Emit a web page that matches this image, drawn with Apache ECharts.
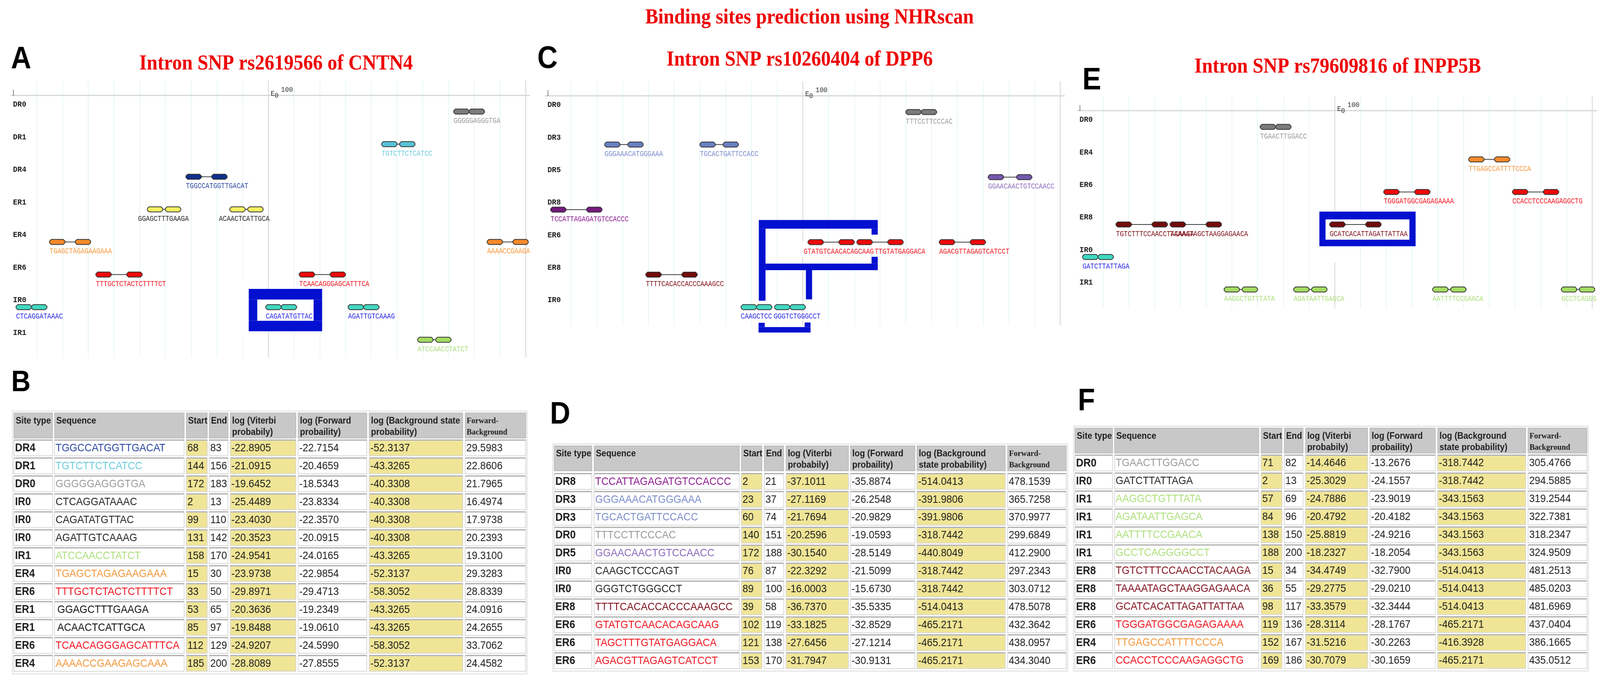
<!DOCTYPE html>
<html>
<head>
<meta charset="utf-8">
<title>Binding sites prediction using NHRscan</title>
<script src="https://cdn.jsdelivr.net/npm/echarts@6/dist/echarts.min.js"></script>
<style>
  html, body { margin: 0; padding: 0; background: #fff; overflow: hidden; }
  #main { width: 4550px; height: 1729px; transform-origin: 0 0; }
</style>
</head>
<body>
<div id="main"></div>
<script>
// site type, sequence, start, end, log viterbi, log forward, log background, forward-background
const tableB = [
  ['DR4', 'TGGCCATGGTTGACAT', 68, 83, -22.8905, -22.7154, -52.3137, 29.5983],
  ['DR1', 'TGTCTTCTCATCC', 144, 156, -21.0915, -20.4659, -43.3265, 22.8606],
  ['DR0', 'GGGGGAGGGTGA', 172, 183, -19.6452, -18.5343, -40.3308, 21.7965],
  ['IR0', 'CTCAGGATAAAC', 2, 13, -25.4489, -23.8334, -40.3308, 16.4974],
  ['IR0', 'CAGATATGTTAC', 99, 110, -23.4030, -22.3570, -40.3308, 17.9738],
  ['IR0', 'AGATTGTCAAAG', 131, 142, -20.3523, -20.0915, -40.3308, 20.2393],
  ['IR1', 'ATCCAACCTATCT', 158, 170, -24.9541, -24.0165, -43.3265, 19.3100],
  ['ER4', 'TGAGCTAGAGAAGAAA', 15, 30, -23.9738, -22.9854, -52.3137, 29.3283],
  ['ER6', 'TTTGCTCTACTCTTTTCT', 33, 50, -29.8971, -29.4713, -58.3052, 28.8339],
  ['ER1', 'GGAGCTTTGAAGA', 53, 65, -20.3636, -19.2349, -43.3265, 24.0916],
  ['ER1', 'ACAACTCATTGCA', 85, 97, -19.8488, -19.0610, -43.3265, 24.2655],
  ['ER6', 'TCAACAGGGAGCATTTCA', 112, 129, -24.9207, -24.5990, -58.3052, 33.7062],
  ['ER4', 'AAAACCGAAGAGCAAA', 185, 200, -28.8089, -27.8555, -52.3137, 24.4582]
];
const tableD = [
  ['DR8', 'TCCATTAGAGATGTCCACCC', 2, 21, -37.1011, -35.8874, -514.0413, 478.1539],
  ['DR3', 'GGGAAACATGGGAAA', 23, 37, -27.1169, -26.2548, -391.9806, 365.7258],
  ['DR3', 'TGCACTGATTCCACC', 60, 74, -21.7694, -20.9829, -391.9806, 370.9977],
  ['DR0', 'TTTCCTTCCCAC', 140, 151, -20.2596, -19.0593, -318.7442, 299.6849],
  ['DR5', 'GGAACAACTGTCCAACC', 172, 188, -30.1540, -28.5149, -440.8049, 412.2900],
  ['IR0', 'CAAGCTCCCAGT', 76, 87, -22.3292, -21.5099, -318.7442, 297.2343],
  ['IR0', 'GGGTCTGGGCCT', 89, 100, -16.0003, -15.6730, -318.7442, 303.0712],
  ['ER8', 'TTTTCACACCACCCAAAGCC', 39, 58, -36.7370, -35.5335, -514.0413, 478.5078],
  ['ER6', 'GTATGTCAACACAGCAAG', 102, 119, -33.1825, -32.8529, -465.2171, 432.3642],
  ['ER6', 'TAGCTTTGTATGAGGACA', 121, 138, -27.6456, -27.1214, -465.2171, 438.0957],
  ['ER6', 'AGACGTTAGAGTCATCCT', 153, 170, -31.7947, -30.9131, -465.2171, 434.3040]
];
const tableF = [
  ['DR0', 'TGAACTTGGACC', 71, 82, -14.4646, -13.2676, -318.7442, 305.4766],
  ['IR0', 'GATCTTATTAGA', 2, 13, -25.3029, -24.1557, -318.7442, 294.5885],
  ['IR1', 'AAGGCTGTTTATA', 57, 69, -24.7886, -23.9019, -343.1563, 319.2544],
  ['IR1', 'AGATAATTGAGCA', 84, 96, -20.4792, -20.4182, -343.1563, 322.7381],
  ['IR1', 'AATTTTCCGAACA', 138, 150, -25.8819, -24.9216, -343.1563, 318.2347],
  ['IR1', 'GCCTCAGGGGCCT', 188, 200, -18.2327, -18.2054, -343.1563, 324.9509],
  ['ER8', 'TGTCTTTCCAACCTACAAGA', 15, 34, -34.4749, -32.7900, -514.0413, 481.2513],
  ['ER8', 'TAAAATAGCTAAGGAGAACA', 36, 55, -29.2775, -29.0210, -514.0413, 485.0203],
  ['ER8', 'GCATCACATTAGATTATTAA', 98, 117, -33.3579, -32.3444, -514.0413, 481.6969],
  ['ER6', 'TGGGATGGCGAGAGAAAA', 119, 136, -28.3114, -28.1767, -465.2171, 437.0404],
  ['ER4', 'TTGAGCCATTTTCCCA', 152, 167, -31.5216, -30.2263, -416.3928, 386.1665],
  ['ER6', 'CCACCTCCCAAGAGGCTG', 169, 186, -30.7079, -30.1659, -465.2171, 435.0512]
];

const rowsA = ['DR0', 'DR1', 'DR4', 'ER1', 'ER4', 'ER6', 'IR0', 'IR1'];
const rowsC = ['DR0', 'DR3', 'DR5', 'DR8', 'ER6', 'ER8', 'IR0'];
const rowsE = ['DR0', 'ER4', 'ER6', 'ER8', 'IR0', 'IR1'];

const headersB = ['Site type', 'Sequence', 'Start', 'End', 'log (Viterbi\nprobabily)', 'log (Forward\nprobaility)', 'log (Background state\nprobability)', 'Forward-\nBackground'];
const headersDF = ['Site type', 'Sequence', 'Start', 'End', 'log (Viterbi\nprobabily)', 'log (Forward\nprobaility)', 'log (Background\nstate probability)', 'Forward-\nBackground'];

// 结合位点的颜色
const glyphColors = {
  DR0: '#7c7c7c', DR1: '#58c4da', DR3: '#6a80c2', DR4: '#10308c', DR5: '#7458ae', DR8: '#741a7c',
  ER1: '#f6f062', ER4: '#f58a2a', ER6: '#ee0a0a', ER8: '#720c0c', IR0: '#40d8c0', IR1: '#a4dc62'
};
const labelColors = {
  DR0: '#9a9a9a', DR1: '#6cccdc', DR3: '#7a8ccc', DR4: '#2a48a0', DR5: '#8a6cbc', DR8: '#8c1a90',
  ER1: '#222222', ER4: '#f5983c', ER6: '#f0141e', ER8: '#7c0c14', IR0: '#2424e4', IR1: '#aee07c'
};
const tableColors = Object.assign({}, labelColors, { IR0: '#262626', ER1: '#111111', ER8: '#80101c' });

// 图上标签和表格不一致的地方，标签位置单位是bp
const labelFixesA = { GGAGCTTTGAAGA: { start: 49.4 }, ACAACTCATTGCA: { start: 80.8 } };
const labelFixesC = {
  CAAGCTCCCAGT: { text: 'CAAGCTCC', start: 75.9 },
  GGGTCTGGGCCT: { start: 88.7 },
  GTATGTCAACACAGCAAG: { start: 100.3 },
  TAGCTTTGTATGAGGACA: { text: 'TTGTATGAGGACA', start: 127.9 }
};

// 蓝色标注框 [x起, x止, 行起, 行止]，x单位bp，行单位是行号
const whiteA = [[95.7, 117.6, 5.765, 6.42], [89, 91, 5.19, 6.9]];
const blueA = [
  [92.4, 120.9, 5.44, 5.765], [92.4, 120.9, 6.42, 6.74],
  [92.4, 95.7, 5.765, 6.42], [117.6, 120.9, 5.765, 6.42]
];
const whiteC = [[99, 101, 3.98, 4.45]];
const blueC = [
  [82.9, 129.1, 3.32, 3.585], [82.9, 85.5, 3.585, 5.80], [126.7, 129.1, 3.585, 3.77],
  [85.5, 129.1, 4.66, 4.86], [126.7, 129.1, 4.45, 4.66], [101.2, 103.6, 4.86, 5.76],
  [82.8, 103.0, 6.61, 6.78], [82.8, 85.2, 6.48, 6.61], [100.7, 103.0, 6.47, 6.61]
];
const whiteE = [[96.4, 129.0, 2.845, 3.47], [99, 101, 3.67, 4.17]];
const blueE = [
  [94.0, 131.4, 2.605, 2.845], [94.0, 131.4, 3.47, 3.67],
  [94.0, 96.4, 2.845, 3.47], [129.0, 131.4, 2.845, 3.47]
];

const MONO = '"Liberation Mono", "DejaVu Sans Mono", monospace';
const SANS = '"Liberation Sans", Arial, sans-serif';
const SERIF = '"Liberation Serif", "Times New Roman", serif';
const BP = 7.32; // 每个bp的像素
const HALF_SITE = 6; // 半位点长度

var grids = [], xAxes = [], yAxes = [], seriesList = [];

// 生成网格线颜色，100和200的线深一些
function splitColors() {
  const colors = [];
  for (let v = 0; v <= 200; v += 10) {
    colors.push(v === 0 ? 'rgba(0,0,0,0)' : (v === 100 || v === 200) ? '#cfd3d3' : '#e6f6f6');
  }
  return colors;
}

function addGrid(grid, xAxis, yAxis) {
  const idx = grids.length;
  grids.push(grid);
  xAxes.push(Object.assign({ gridIndex: idx }, xAxis));
  yAxes.push(Object.assign({ gridIndex: idx }, yAxis));
  return idx;
}

// 上面的位点图：一个grid画网格线，一个grid画行和位点
function addSitePanel(cfg) {
  // 网格线
  addGrid(
    { left: cfg.left, top: cfg.lineTop, width: 200 * BP, height: cfg.lineBottom - cfg.lineTop, show: false },
    {
      type: 'value', min: 0, max: 200, interval: 10,
      axisLine: { show: false }, axisTick: { show: false }, axisLabel: { show: false },
      splitLine: { show: true, lineStyle: { color: splitColors(), width: 2 } }
    },
    { type: 'value', min: 0, max: 1, show: false, splitLine: { show: false } }
  );

  // 位点行
  const idx = addGrid(
    { left: cfg.left, top: cfg.axisY, width: cfg.maxBp * BP, height: cfg.band * cfg.rows.length, show: false },
    {
      type: 'value', position: 'top', min: 0, max: cfg.maxBp, interval: 10,
      axisLine: { show: true, lineStyle: { color: '#d4d8da', width: 3 } },
      axisTick: { show: false },
      splitLine: { show: false },
      axisLabel: {
        show: true, margin: 5, align: 'left', verticalAlign: 'bottom', padding: [0, 0, 0, 36],
        fontFamily: MONO, fontSize: 19, color: '#333',
        showMaxLabel: false, showMinLabel: false,
        formatter: function (v) { return v === 100 ? '100' : ''; }
      }
    },
    {
      type: 'category', inverse: true, data: cfg.rows,
      axisLine: { show: false }, axisTick: { show: false }, splitLine: { show: false },
      axisLabel: {
        show: true, inside: true, margin: 6, lineHeight: 36,
        fontFamily: MONO, fontWeight: 'bold', fontSize: 21, color: '#1c1c1c',
        // 第二行留空，把文字抬到位点上方
        formatter: function (v) { return v + '\n '; }
      }
    }
  );

  function rowY(api, r) {
    return api.coord([0, 0])[1] + r * api.size([0, 1])[1];
  }

  // 蓝框
  function boxes(list, color, z) {
    seriesList.push({
      type: 'custom', xAxisIndex: idx, yAxisIndex: idx, z: z, silent: true,
      data: list.map(function (b) { return [b[0], 0]; }),
      renderItem: function (params, api) {
        const b = list[params.dataIndex];
        const x0 = api.coord([b[0], 0])[0];
        const x1 = api.coord([b[1], 0])[0];
        const y0 = rowY(api, b[2]);
        const y1 = rowY(api, b[3]);
        return { type: 'rect', shape: { x: x0, y: y0, width: x1 - x0, height: y1 - y0 }, style: { fill: color } };
      }
    });
  }
  boxes(cfg.white, '#ffffff', 1);
  boxes(cfg.blue, '#0410d0', 3);

  // 坐标轴上的刻度和E0
  const marks = [
    { text: '|', bp: 1, r: -0.58, size: 16, color: '#333' },
    { text: 'E', bp: 101.7, r: -0.553, size: 19, color: '#333' },
    { text: '0', bp: 103.2, r: -0.49, size: 19, color: '#333' }
  ];
  seriesList.push({
    type: 'custom', xAxisIndex: idx, yAxisIndex: idx, z: 4, silent: true,
    data: marks.map(function (m) { return [m.bp, 0]; }),
    renderItem: function (params, api) {
      const m = marks[params.dataIndex];
      return {
        type: 'text',
        x: api.coord([m.bp, 0])[0], y: rowY(api, m.r),
        style: { text: m.text, fill: m.color, fontFamily: MONO, fontSize: m.size, align: 'center', verticalAlign: 'middle' }
      };
    }
  });

  // 位点
  const sites = cfg.table.map(function (t) {
    const fix = (cfg.fixes && cfg.fixes[t[1]]) || {};
    return {
      type: t[0], seq: t[1], start: t[2], end: t[3],
      text: fix.text || t[1], labelStart: fix.start === undefined ? t[2] : fix.start
    };
  });
  seriesList.push({
    type: 'custom', xAxisIndex: idx, yAxisIndex: idx, z: 5, clip: true, silent: true,
    data: sites.map(function (s) { return [s.start, cfg.rows.indexOf(s.type)]; }),
    renderItem: function (params, api) {
      const s = sites[params.dataIndex];
      const c = api.coord([s.start, api.value(1)]);
      const y = c[1];
      const x0 = c[0];
      const x1 = api.coord([s.end + 1, api.value(1)])[0];
      const half = api.size([HALF_SITE, 0])[0];
      const children = [
        {
          type: 'line', shape: { x1: x0 + half, y1: y, x2: x1 - half, y2: y },
          style: { stroke: '#3c3c3c', lineWidth: 2 }
        },
        pill(x0, x0 + half, y, s.type),
        pill(x1 - half, x1, y, s.type),
        {
          type: 'text', x: api.coord([s.labelStart, 0])[0], y: y + 24, scaleX: 0.88,
          style: {
            text: s.text, fill: labelColors[s.type], fontFamily: MONO, fontSize: 21,
            align: 'left', verticalAlign: 'middle'
          }
        }
      ];
      return { type: 'group', children: children };
    }
  });
}

function pill(x0, x1, y, type) {
  const h = 6.5, c = 5;
  return {
    type: 'polygon',
    shape: {
      points: [
        [x0 + c, y - h], [x1 - c, y - h], [x1, y - 2], [x1, y + 2],
        [x1 - c, y + h], [x0 + c, y + h], [x0, y + 2], [x0, y - 2]
      ]
    },
    style: { fill: glyphColors[type], stroke: '#333', lineWidth: 2 }
  };
}

// 下面的表格：x轴单位是相对第一列的像素，y轴单位是行
function addTable(cfg) {
  const edges = cfg.columns; // [[左,右],...]
  const originX = edges[0][0];
  const width = edges[edges.length - 1][1] - originX;
  const n = cfg.table.length;
  const idx = addGrid(
    { left: originX, top: cfg.rowTop, width: width, height: n * cfg.pitch, show: false },
    { type: 'value', min: 0, max: width, show: false, splitLine: { show: false } },
    { type: 'value', min: 0, max: n, inverse: true, show: false, splitLine: { show: false } }
  );
  const cellH = 39.5 / cfg.pitch;
  const headTop = (cfg.headTop - cfg.rowTop) / cfg.pitch;
  const headBottom = (cfg.headTop + 64 - cfg.rowTop) / cfg.pitch;
  const cells = [];
  cfg.headers.forEach(function (h, col) { cells.push({ col: col, row: -1, text: h }); });
  cfg.table.forEach(function (t, row) {
    t.forEach(function (v, col) {
      cells.push({ col: col, row: row, text: col >= 4 ? v.toFixed(4) : String(v), type: t[0] });
    });
  });

  // 外框
  seriesList.push({
    type: 'custom', xAxisIndex: idx, yAxisIndex: idx, z: 1, silent: true,
    data: [[0, 0]],
    renderItem: function (params, api) {
      const a = api.coord([0, headTop]);
      const b = api.coord([width, n]);
      return {
        type: 'rect',
        shape: { x: a[0] - 4, y: a[1] - 5, width: b[0] - a[0] + 8, height: b[1] - a[1] + 5 },
        style: { fill: '#fff', stroke: '#e6e6e6', lineWidth: 3 }
      };
    }
  });

  seriesList.push({
    type: 'custom', xAxisIndex: idx, yAxisIndex: idx, z: 2, silent: true,
    data: cells.map(function (c) { return [edges[c.col][0] - originX, Math.max(c.row, 0)]; }),
    renderItem: function (params, api) {
      const cell = cells[params.dataIndex];
      const left = edges[cell.col][0] - originX;
      const right = edges[cell.col][1] - originX;
      const isHead = cell.row < 0;
      const a = api.coord([left, isHead ? headTop : cell.row]);
      const b = api.coord([right, isHead ? headBottom : cell.row + cellH]);
      const w = b[0] - a[0];
      const h = b[1] - a[1];
      const yellow = !isHead && (cell.col === 2 || cell.col === 4 || cell.col === 6);
      const children = [{
        type: 'rect', shape: { x: a[0], y: a[1], width: w, height: h },
        style: {
          fill: isHead ? '#c8c8c8' : yellow ? '#f0e596' : '#fff',
          stroke: isHead ? '#bcbcbc' : '#d6d6d6', lineWidth: 2
        }
      }];
      if (!isHead) {
        children.push({
          type: 'line', shape: { x1: a[0], y1: a[1] - 1, x2: b[0], y2: a[1] - 1 },
          style: { stroke: '#a8a8a8', lineWidth: 2.5 }
        });
      }
      if (isHead) {
        const serif = cell.col === 7;
        children.push({
          type: 'text', x: a[0] + (serif ? 4 : 5), y: a[1] + 6,
          style: {
            text: cell.text, fill: '#1e1e1e', align: 'left', verticalAlign: 'top',
            fontFamily: serif ? SERIF : SANS, fontWeight: 'bold', fontSize: serif ? 22 : 24,
            lineHeight: 29
          }
        });
      } else {
        const black = tableColors[cell.type] === '#111111' && cell.col === 1;
        children.push({
          type: 'text', x: a[0] + (black ? 8 : 3), y: (a[1] + b[1]) / 2,
          style: {
            text: cell.text,
            fill: cell.col === 1 ? tableColors[cell.type] : '#1c1c1c',
            align: 'left', verticalAlign: 'middle',
            fontFamily: SANS, fontWeight: cell.col === 0 ? 'bold' : 'normal',
            fontSize: cell.col === 0 ? 29 : 28.5
          }
        });
      }
      return { type: 'group', children: children };
    }
  });
}

addSitePanel({
  left: 31, lineTop: 206, lineBottom: 916, axisY: 244, band: 83.5, maxBp: 201.4,
  rows: rowsA, table: tableB, fixes: labelFixesA, white: whiteA, blue: blueA
});
addSitePanel({
  left: 1551, lineTop: 209, lineBottom: 834, axisY: 245.4, band: 83.3, maxBp: 201.6,
  rows: rowsC, table: tableD, fixes: labelFixesC, white: whiteC, blue: blueC
});
addSitePanel({
  left: 3063.8, lineTop: 247, lineBottom: 790.6, axisY: 283.4, band: 83.3, maxBp: 201.7,
  rows: rowsE, table: tableF, white: whiteE, blue: blueE
});

addTable({
  table: tableB, headers: headersB, rowTop: 1128, headTop: 1058, pitch: 46,
  columns: [[39.7, 149.3], [155, 523.5], [530, 589.4], [595, 648.5], [655, 841.4], [848, 1043], [1050, 1316], [1323, 1495]]
});
addTable({
  table: tableD, headers: headersDF, rowTop: 1214, headTop: 1142, pitch: 45.9,
  columns: [[1576.2, 1682.9], [1689.6, 2102.6], [2108.4, 2166.6], [2173.4, 2228.6], [2235.4, 2412.8], [2418.6, 2601.8], [2607.7, 2858.7], [2865.5, 3032]]
});
addTable({
  table: tableF, headers: headersDF, rowTop: 1166.8, headTop: 1096.6, pitch: 46,
  columns: [[3057, 3163.8], [3169.6, 3579.6], [3586.4, 3645.6], [3652.3, 3705.7], [3712.4, 3889], [3895.7, 4081.7], [4088.5, 4338.6], [4345.4, 4513]]
});

function redTitle(text, centerX, top, size) {
  return {
    text: text, left: centerX, top: top, textAlign: 'center', padding: 0,
    textStyle: { fontFamily: SERIF, fontWeight: 'bold', fontSize: size, color: '#ee0000' }
  };
}
function letter(text, left, top, size) {
  return {
    text: text, left: left, top: top, padding: 0,
    textStyle: { fontFamily: SANS, fontWeight: 'bold', fontSize: size, color: '#000' }
  };
}

// 窗口比图窄时整体横向压缩，保证三栏都能看到
var mainEl = document.getElementById('main');
mainEl.style.transform = 'scaleX(' + Math.min(1, window.innerWidth / 4550) + ')';

var myChart = echarts.init(mainEl, null, { renderer: 'canvas' });
myChart.setOption({
  animation: false,
  backgroundColor: '#fff',
  title: [
    redTitle('Binding sites prediction using NHRscan', 2302, 18, 55),
    redTitle('Intron SNP rs2619566 of CNTN4', 785, 136, 55),
    redTitle('Intron SNP rs10260404 of DPP6', 2274, 126, 55),
    redTitle('Intron SNP rs79609816 of INPP5B', 3804, 144, 55),
    letter('A', 31, 113, 80),
    letter('B', 32, 943, 76),
    letter('C', 1528, 112, 80),
    letter('D', 1564, 1023, 80),
    letter('E', 3078, 167, 80),
    letter('F', 3065, 989, 80)
  ],
  grid: grids,
  xAxis: xAxes,
  yAxis: yAxes,
  series: seriesList
});
</script>
</body>
</html>
